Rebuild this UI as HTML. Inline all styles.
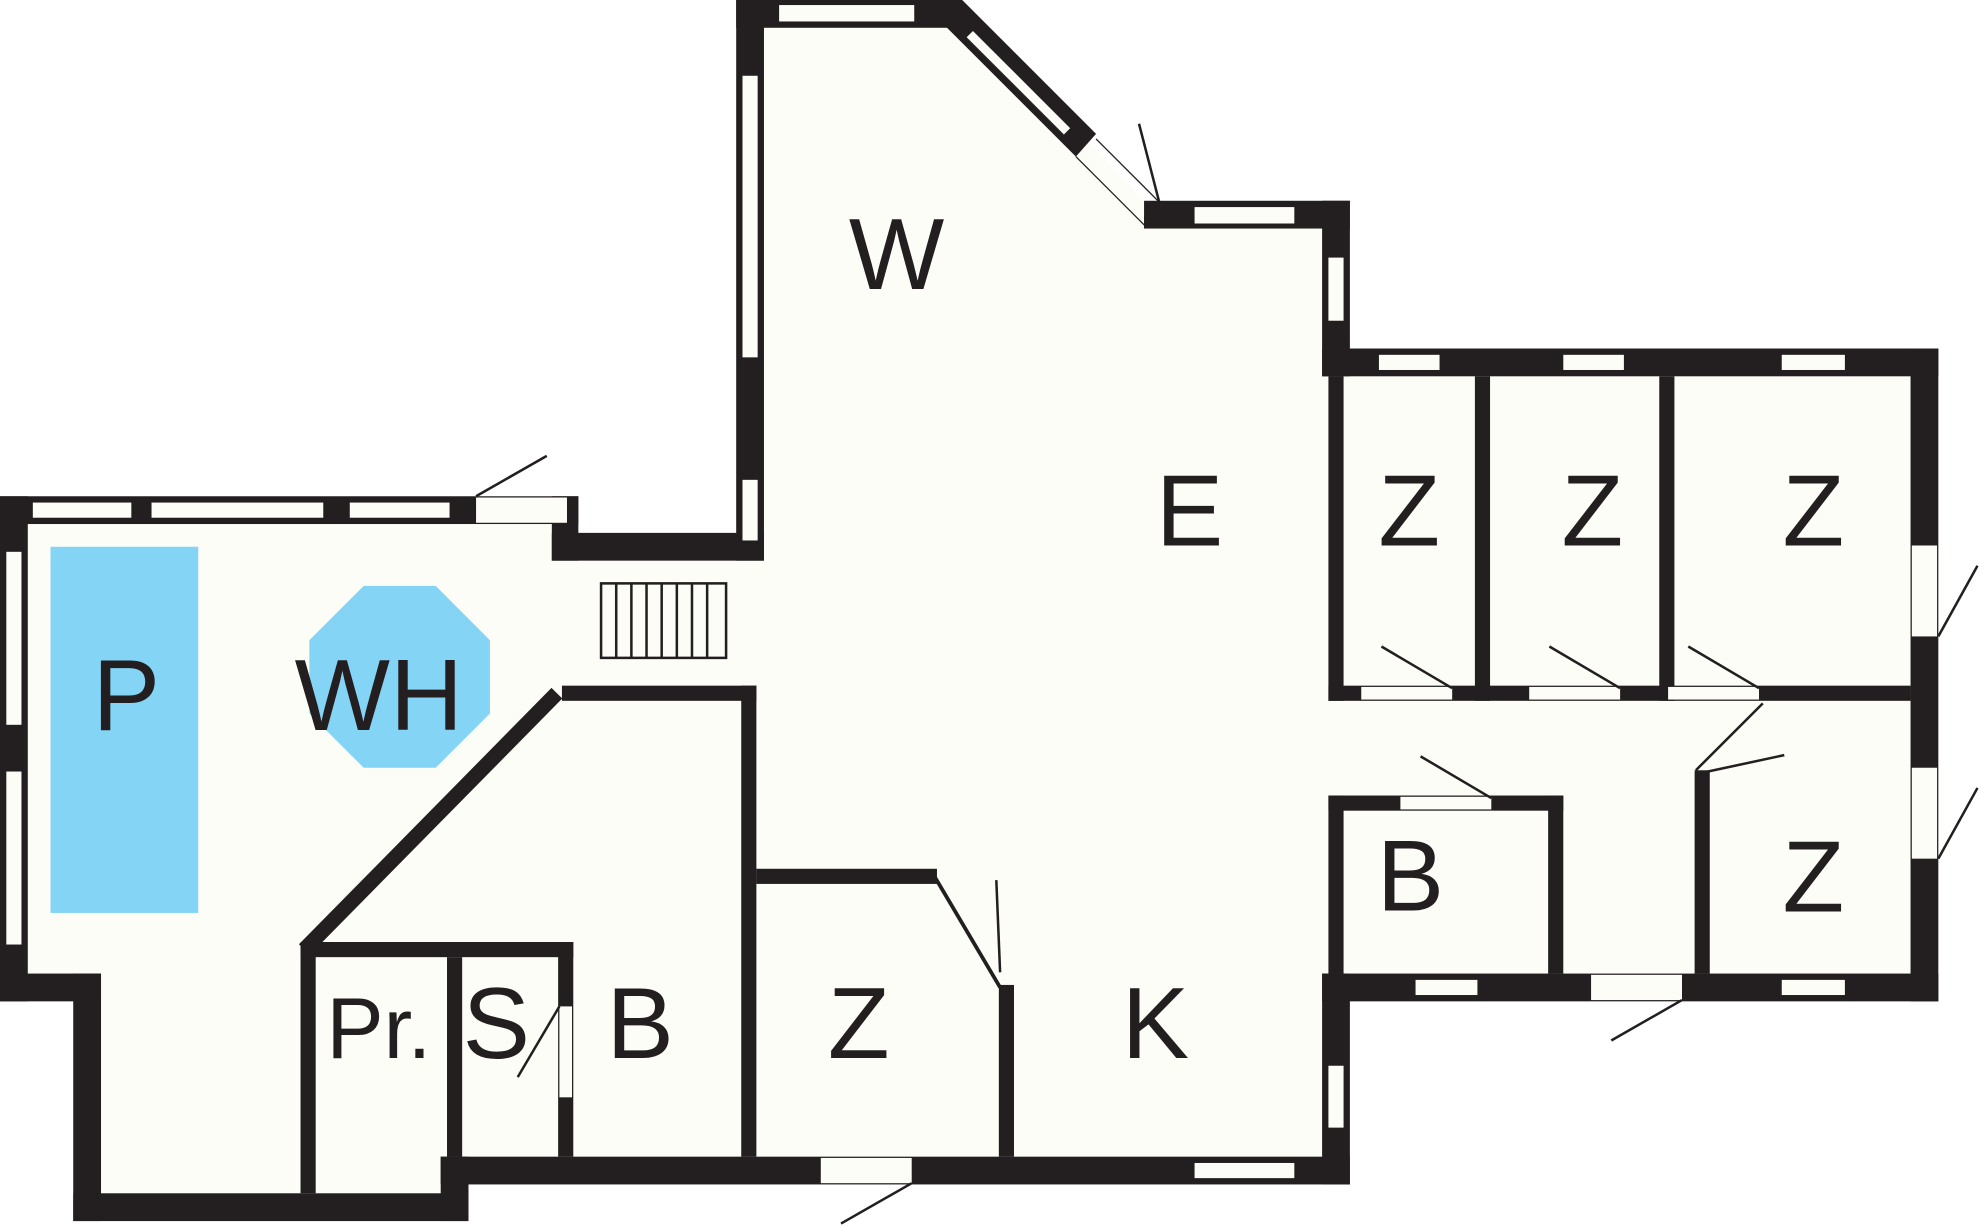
<!DOCTYPE html>
<html><head><meta charset="utf-8"><style>
html,body{margin:0;padding:0;background:#fff;}
svg{display:block;}
text{font-family:"Liberation Sans",sans-serif;fill:#231f20;}
</style></head><body>
<svg width="1980" height="1227" viewBox="0 0 1568 971.7" preserveAspectRatio="none" xmlns="http://www.w3.org/2000/svg">
<polygon fill="#fcfdf7" points="0,393 437,393 437,422 583,422 583,0 757,0 906,159 1047,159 1047,276 1535,276 1535,793 1069,793 1069,938 371,938 371,967 58,967 58,793 0,793"/>
<g fill="#231f20">
<rect x="0" y="393" width="458" height="22"/>
<rect x="0" y="393" width="22" height="400"/>
<rect x="0" y="771" width="80" height="22"/>
<rect x="58" y="771" width="22" height="196"/>
<rect x="58" y="945" width="313" height="22"/>
<rect x="349" y="916" width="22" height="51"/>
<rect x="349" y="916" width="720" height="22"/>
<rect x="1047" y="771" width="22" height="167"/>
<rect x="1047" y="771" width="488" height="22"/>
<rect x="1513" y="276" width="22" height="517"/>
<rect x="1047" y="276" width="488" height="22"/>
<rect x="1047" y="159" width="22" height="139"/>
<rect x="906" y="159" width="163" height="22"/>
<rect x="583" y="0" width="175" height="22"/>
<rect x="583" y="0" width="22" height="444"/>
<rect x="437" y="422" width="168" height="22"/>
<rect x="437" y="393" width="21" height="51"/>
<rect x="1052" y="298" width="12" height="257"/>
<rect x="1168" y="298" width="12" height="257"/>
<rect x="1314" y="298" width="12" height="257"/>
<rect x="1052" y="543" width="461" height="12"/>
<rect x="1052" y="630" width="186" height="12"/>
<rect x="1052" y="630" width="12" height="141"/>
<rect x="1226" y="630" width="12" height="141"/>
<rect x="1342" y="610" width="12" height="161"/>
<rect x="587" y="543" width="12" height="373"/>
<rect x="445" y="543" width="154" height="12"/>
<rect x="599" y="688" width="143" height="12"/>
<rect x="791" y="780" width="12" height="136"/>
<rect x="238" y="746" width="216" height="12"/>
<rect x="238" y="750" width="12" height="195"/>
<rect x="442" y="746" width="12" height="170"/>
<rect x="354" y="758" width="12" height="158"/>
</g>
<line x1="441" y1="549" x2="241" y2="752" stroke="#231f20" stroke-width="12"/>
<polygon fill="#231f20" points="752,0 762,0 868,106 852,124 746,18"/>
<line x1="768" y1="27" x2="845" y2="104" stroke="#fcfdf7" stroke-width="7"/>
<line x1="852" y1="124" x2="908" y2="180" stroke="#231f20" stroke-width="1"/>
<line x1="868" y1="110" x2="918" y2="160" stroke="#231f20" stroke-width="1"/>
<polygon fill="#231f20" points="906,172 918,160 918,181 906,181"/>
<line x1="740" y1="694" x2="792" y2="782" stroke="#231f20" stroke-width="3"/>
<g fill="#fcfdf7">
<rect x="26" y="398" width="78" height="12"/>
<rect x="120" y="398" width="136" height="12"/>
<rect x="277" y="398" width="79" height="12"/>
<rect x="617" y="4" width="107" height="13"/>
<rect x="588" y="60" width="12" height="223"/>
<rect x="588" y="380" width="12" height="48"/>
<rect x="946" y="164" width="79" height="13"/>
<rect x="1052" y="204" width="12" height="50"/>
<rect x="1092" y="281" width="48" height="12"/>
<rect x="1238" y="281" width="48" height="12"/>
<rect x="1411" y="281" width="50" height="12"/>
<rect x="5" y="437" width="12" height="137"/>
<rect x="5" y="611" width="12" height="137"/>
<rect x="1121" y="776" width="49" height="12"/>
<rect x="1411" y="776" width="50" height="12"/>
<rect x="946" y="921" width="79" height="12"/>
<rect x="1052" y="844" width="12" height="49"/>
<rect x="377" y="394" width="72" height="20"/>
<rect x="1514" y="432" width="20" height="72"/>
<rect x="1514" y="608" width="20" height="72"/>
<rect x="650" y="917" width="72" height="20"/>
<rect x="1260" y="772" width="72" height="20"/>
<rect x="1078" y="544" width="72" height="10"/>
<rect x="1211" y="544" width="72" height="10"/>
<rect x="1321" y="544" width="72" height="10"/>
<rect x="1109" y="631" width="72" height="10"/>
<rect x="443" y="797" width="10" height="72"/>
<rect x="1343" y="560" width="10" height="48"/>
</g>
<g stroke="#231f20" stroke-width="2">
<line x1="377" y1="393" x2="433" y2="361"/>
<line x1="1535" y1="504" x2="1566" y2="448"/>
<line x1="1535" y1="680" x2="1566" y2="624"/>
<line x1="722" y1="937" x2="666" y2="969"/>
<line x1="1332" y1="792" x2="1276" y2="824"/>
<line x1="1150" y1="545" x2="1094" y2="512"/>
<line x1="1283" y1="545" x2="1227" y2="512"/>
<line x1="1393" y1="545" x2="1337" y2="512"/>
<line x1="1181" y1="632" x2="1125" y2="599"/>
<line x1="443" y1="797" x2="410" y2="853"/>
<line x1="1348" y1="612" x2="1413" y2="598"/>
<line x1="1343" y1="610" x2="1396" y2="557"/>
<line x1="792" y1="770" x2="789" y2="697"/>
<line x1="918" y1="160" x2="902" y2="98"/>
</g>
<g fill="none" stroke="#231f20" stroke-width="2">
<rect x="476" y="462" width="99" height="59"/>
<line x1="488" y1="462" x2="488" y2="521"/><line x1="500" y1="462" x2="500" y2="521"/>
<line x1="512" y1="462" x2="512" y2="521"/><line x1="524" y1="462" x2="524" y2="521"/>
<line x1="536" y1="462" x2="536" y2="521"/><line x1="548" y1="462" x2="548" y2="521"/>
<line x1="560" y1="462" x2="560" y2="521"/>
</g>
<rect x="40" y="433" width="117" height="290" fill="#84d4f5"/>
<polygon fill="#84d4f5" points="288,464 345,464 388,507 388,565 345,608 288,608 245,565 245,507"/>
<g font-size="80" text-anchor="middle">
<text x="710" y="229">W</text>
<text x="942" y="432">E</text>
<text x="1116" y="432">Z</text>
<text x="1261" y="432">Z</text>
<text x="1436" y="432">Z</text>
<text x="1117" y="721">B</text>
<text x="1436" y="722">Z</text>
<text x="100" y="578">P</text>
<text x="300" y="578">WH</text>
<text x="507" y="838">B</text>
<text x="680" y="838">Z</text>
<text x="915" y="838">K</text>
<text x="393" y="838">S</text>
<text x="300" y="838" font-size="68">Pr.</text>
</g>
</svg>
</body></html>
